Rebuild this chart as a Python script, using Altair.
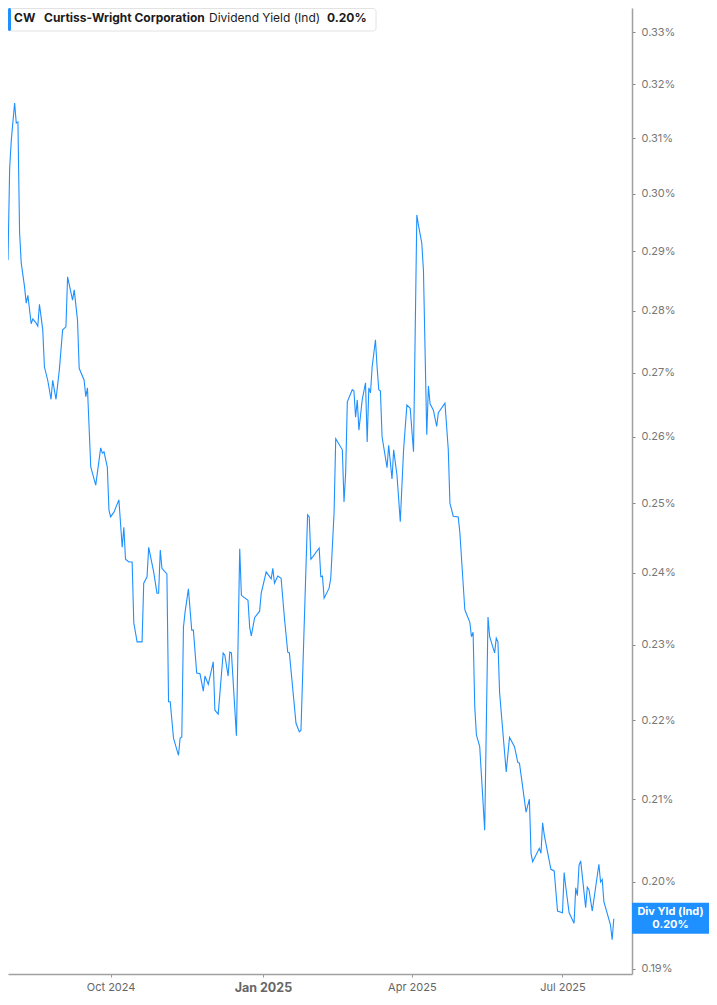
import altair as alt
import pandas as pd

# Days since 2024-07-31 and dividend yield in %
day_offsets = [
    0, 1, 2, 4, 5, 6, 7, 8, 10, 11, 12, 14, 15, 17, 18, 19, 21, 22, 24, 26,
    27, 29, 31, 33, 35, 36, 38, 39, 40, 42, 43, 46, 47, 48, 50, 53, 56, 57, 58, 60,
    61, 62, 64, 67, 69, 70, 71, 73, 75, 76, 78, 81, 82, 84, 85, 88, 90, 91, 92, 93,
    96, 97, 98, 100, 103, 104, 105, 106, 107, 109, 111, 112, 114, 116, 118, 119, 121, 124, 125, 127,
    130, 131, 133, 134, 135, 138, 140, 141, 145, 146, 147, 149, 152, 153, 156, 159, 160, 161, 163, 165,
    167, 169, 170, 174, 176, 177, 181, 182, 183, 184, 188, 189, 190, 191, 194, 195, 197, 198, 202, 203,
    204, 205, 208, 209, 210, 211, 212, 214, 216, 217, 218, 219, 220, 222, 223, 224, 225, 226, 229, 230,
    232, 233, 235, 237, 239, 241, 243, 245, 247, 248, 250, 251, 253, 254, 255, 257, 259, 260, 264, 266,
    267, 269, 272, 273, 276, 277, 279, 280, 281, 282, 283, 285, 288, 290, 291, 294, 295, 296, 297, 301,
    303, 306, 308, 309, 313, 315, 316, 317, 321, 322, 323, 324, 328, 330, 332, 335, 336, 337, 339, 342,
    343, 344, 345, 346, 349, 350, 351, 353, 357, 358, 359, 360, 364, 365, 366,
]
yield_pct = [
    0.2885, 0.3046, 0.3097, 0.3165, 0.3128, 0.3130, 0.2932, 0.2880, 0.2840, 0.2813,
    0.2826, 0.2779, 0.2787, 0.2780, 0.2775, 0.2811, 0.2769, 0.2709, 0.2688, 0.2658,
    0.2688, 0.2658, 0.2704, 0.2769, 0.2774, 0.2857, 0.2831, 0.2818, 0.2835, 0.2785,
    0.2707, 0.2688, 0.2662, 0.2676, 0.2554, 0.2527, 0.2583, 0.2575, 0.2577, 0.2554,
    0.2490, 0.2480, 0.2487, 0.2505, 0.2436, 0.2465, 0.2419, 0.2415, 0.2415, 0.2330,
    0.2304, 0.2304, 0.2385, 0.2394, 0.2436, 0.2401, 0.2371, 0.2371, 0.2432, 0.2406,
    0.2398, 0.2224, 0.2224, 0.2177, 0.2155, 0.2177, 0.2178, 0.2324, 0.2345, 0.2377,
    0.2320, 0.2320, 0.2262, 0.2261, 0.2238, 0.2258, 0.2247, 0.2277, 0.2213, 0.2208,
    0.2289, 0.2286, 0.2258, 0.2290, 0.2289, 0.2180, 0.2434, 0.2368, 0.2361, 0.2324,
    0.2312, 0.2337, 0.2346, 0.2371, 0.2401, 0.2391, 0.2406, 0.2385, 0.2395, 0.2392,
    0.2337, 0.2290, 0.2289, 0.2196, 0.2185, 0.2187, 0.2483, 0.2480, 0.2419, 0.2422,
    0.2435, 0.2394, 0.2395, 0.2364, 0.2378, 0.2392, 0.2486, 0.2597, 0.2580, 0.2502,
    0.2545, 0.2654, 0.2673, 0.2671, 0.2630, 0.2657, 0.2610, 0.2657, 0.2684, 0.2592,
    0.2676, 0.2668, 0.2709, 0.2753, 0.2709, 0.2673, 0.2671, 0.2600, 0.2553, 0.2587,
    0.2536, 0.2580, 0.2542, 0.2473, 0.2580, 0.2649, 0.2644, 0.2577, 0.2963, 0.2945,
    0.2914, 0.2868, 0.2603, 0.2679, 0.2651, 0.2641, 0.2616, 0.2637, 0.2652, 0.2580,
    0.2500, 0.2481, 0.2480, 0.2457, 0.2348, 0.2342, 0.2331, 0.2311, 0.2317, 0.2217,
    0.2181, 0.2166, 0.2062, 0.2338, 0.2311, 0.2289, 0.2309, 0.2304, 0.2236, 0.2134,
    0.2178, 0.2166, 0.2146, 0.2145, 0.2084, 0.2100, 0.2034, 0.2024, 0.2040, 0.2034,
    0.2071, 0.2056, 0.2015, 0.2013, 0.1966, 0.1964, 0.2011, 0.1994, 0.1964, 0.1952,
    0.1993, 0.1984, 0.2020, 0.2025, 0.1970, 0.1994, 0.1991, 0.1966, 0.2021, 0.2000,
    0.2003, 0.1977, 0.1950, 0.1933, 0.1957,
]
assert len(day_offsets) == len(yield_pct)

y_ticks = [0.19, 0.20, 0.21, 0.22, 0.23, 0.24, 0.25, 0.26, 0.27, 0.28, 0.29, 0.30, 0.31, 0.32, 0.33]
ticker = "CW"
company = "Curtiss-Wright Corporation"
metric = "Dividend Yield (Ind)"
badge_label = "Div Yld (Ind)"

start = pd.Timestamp("2024-07-31")
df = pd.DataFrame({
    "date": start + pd.to_timedelta(day_offsets, unit="D"),
    "value": yield_pct,
})
last_txt = f"{yield_pct[-1]:.2f}%"
last_df = df.tail(1)

BLUE = "#1e90ff"
FONT = "Inter"
W, H = 624, 966
TOTAL_W = 701  # page content width (717 - 2*8 margin)
RIGHT = TOTAL_W - W

x_scale = alt.Scale(domain=[alt.DateTime(year=2024, month=7, date=31),
                            alt.DateTime(year=2025, month=8, date=12)])
y_scale = alt.Scale(type="log", domain=[0.18944, 0.33473])

x_axis = alt.Axis(
    values=[alt.DateTime(year=2024, month=10, date=1), alt.DateTime(year=2025, month=1, date=1),
            alt.DateTime(year=2025, month=4, date=1), alt.DateTime(year=2025, month=7, date=1)],
    format="%b %Y", title=None, grid=False,
    domainColor="#a0a0a0", domainWidth=1.5, tickColor="#999999", tickSize=3,
    labelColor="#666666", labelFont=FONT, labelPadding=4,
    labelFontSize={"condition": {"test": "month(datum.value) == 0", "value": 12.5}, "value": 11},
    labelFontWeight={"condition": {"test": "month(datum.value) == 0", "value": "bold"}, "value": "normal"},
)
y_axis = alt.Axis(
    orient="right", values=y_ticks, labelExpr="format(datum.value, '.2f') + '%'",
    title=None, grid=False, domainColor="#a0a0a0", domainWidth=1.5,
    tickColor="#888888", tickSize=3, labelColor="#777777", labelFont=FONT,
    labelFontSize=11, labelPadding=6,
)

line = alt.Chart(df).mark_line(color=BLUE, strokeWidth=1.1).encode(
    x=alt.X("date:T", scale=x_scale, axis=x_axis),
    y=alt.Y("value:Q", scale=y_scale, axis=y_axis),
)

one = pd.DataFrame({"k": [0]})
header_box = alt.Chart(one).mark_rect(fill="white", stroke="#e2e2e2", strokeWidth=1, cornerRadius=3).encode(
    x=alt.value(0.5), x2=alt.value(368), y=alt.value(0.5), y2=alt.value(23))
header_bar = alt.Chart(one).mark_rect(fill=BLUE, cornerRadius=1.5).encode(
    x=alt.value(0), x2=alt.value(3), y=alt.value(0), y2=alt.value(23))

def header_text(txt, x, weight):
    return alt.Chart(one).mark_text(text=txt, align="left", baseline="middle", font=FONT,
                                    fontSize=12, fontWeight=weight, color="#1b1b1b").encode(
        x=alt.value(x), y=alt.value(10))

h1 = header_text(ticker, 6, "bold")
h2 = header_text(company, 36, "bold")
h3 = header_text(metric, 201, "normal")
h4 = header_text(last_txt, 319, "bold")

badge_cx = W + RIGHT / 2
badge = alt.Chart(last_df).mark_rect(fill=BLUE, yOffset=-16, y2Offset=15).encode(
    x=alt.value(W), x2=alt.value(TOTAL_W),
    y=alt.Y("value:Q", scale=y_scale), y2="value:Q")
badge_t1 = alt.Chart(last_df).mark_text(text=badge_label, align="center", baseline="middle",
                                        dy=-7, font=FONT, fontSize=11, fontWeight="bold",
                                        color="white").encode(
    x=alt.value(badge_cx), y=alt.Y("value:Q", scale=y_scale))
badge_t2 = alt.Chart(last_df).mark_text(text=last_txt, align="center", baseline="middle",
                                        dy=6, font=FONT, fontSize=11, fontWeight="bold",
                                        color="white").encode(
    x=alt.value(badge_cx), y=alt.Y("value:Q", scale=y_scale))

chart = alt.layer(line, header_box, header_bar, h1, h2, h3, h4, badge, badge_t1, badge_t2).properties(
    width=W, height=H, background="white",
    autosize=alt.AutoSizeParams(type="none"),
    padding={"left": 0, "top": 0, "right": RIGHT, "bottom": 20},
).configure_view(strokeWidth=0)

chart.save("out.html", embed_options={"renderer": "svg", "actions": False})
